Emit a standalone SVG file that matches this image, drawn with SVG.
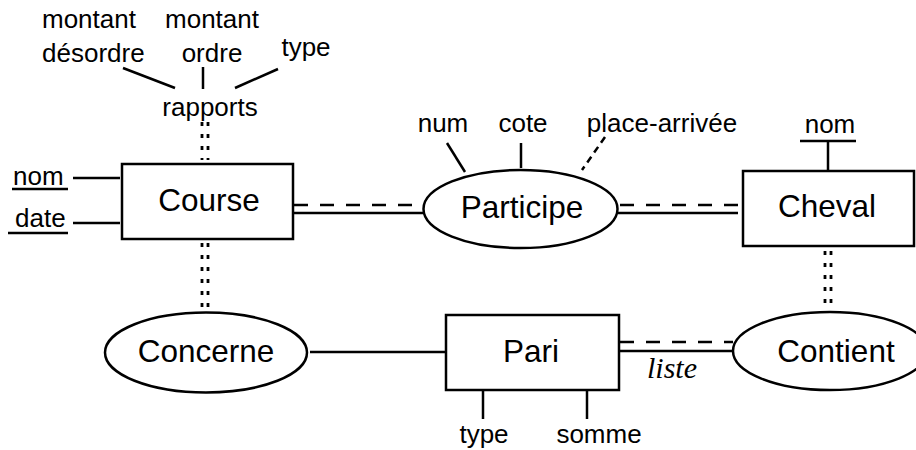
<svg xmlns="http://www.w3.org/2000/svg" width="916" height="450" viewBox="0 0 916 450">
<style>
.box{fill:#fff;stroke:#000;stroke-width:2.5}
.ell{fill:#fff;stroke:#000;stroke-width:2.5}
.ln{stroke:#000;stroke-width:2.5;fill:none}
.dash{stroke:#000;stroke-width:2.5;fill:none;stroke-dasharray:14 12}
.dot{stroke:#000;stroke-width:2.8;fill:none;stroke-dasharray:4 8}
.big{font-family:"Liberation Sans",Arial,sans-serif;font-size:31.5px;text-anchor:middle;fill:#000}
.att{font-family:"Liberation Sans",Arial,sans-serif;font-size:26px;fill:#000}
.mid{text-anchor:middle}
.role{font-family:"Liberation Serif","Times New Roman",serif;font-size:30px;font-style:italic;text-anchor:middle;fill:#000}
</style>
<rect width="916" height="450" fill="#fff"/>
<g id="connectors">
  <line class="dot" x1="202" y1="122" x2="202" y2="160"/>
  <line class="dot" x1="208" y1="122" x2="208" y2="160"/>
  <line class="dot" x1="202" y1="243" x2="202" y2="310"/>
  <line class="dot" x1="208" y1="243" x2="208" y2="310"/>
  <line class="dot" x1="825" y1="251" x2="825" y2="311"/>
  <line class="dot" x1="831" y1="251" x2="831" y2="311"/>
  <line class="dash" x1="294" y1="205" x2="423" y2="205"/>
  <line class="ln" x1="294" y1="213" x2="424" y2="213"/>
  <line class="dash" x1="620" y1="205" x2="738" y2="205"/>
  <line class="ln" x1="618" y1="213" x2="738" y2="213"/>
  <line class="ln" x1="310" y1="352" x2="446" y2="352"/>
  <line class="dash" x1="620" y1="342" x2="733" y2="342"/>
  <line class="ln" x1="620" y1="351" x2="734" y2="351"/>
  <text class="role" x="672" y="378">liste</text>
</g>
<g id="rapports">
  <text class="att" x="42" y="28">montant</text>
  <text class="att" x="42" y="62">désordre</text>
  <text class="att mid" x="212" y="28">montant</text>
  <text class="att mid" x="212" y="62">ordre</text>
  <text class="att mid" x="306" y="56">type</text>
  <line class="ln" x1="123" y1="68" x2="175" y2="88"/>
  <line class="ln" x1="203" y1="67" x2="203" y2="89"/>
  <line class="ln" x1="235" y1="88" x2="278" y2="69"/>
  <text class="att mid" x="210" y="116">rapports</text>
</g>
<g id="Course">
  <rect class="box" x="122" y="164" width="171" height="75"/>
  <text class="big" x="209" y="211">Course</text>
  <text class="att" x="13" y="185">nom</text>
  <line class="ln" x1="12" y1="189" x2="68" y2="189"/>
  <line class="ln" x1="73" y1="178" x2="120" y2="178"/>
  <text class="att" x="15" y="227">date</text>
  <line class="ln" x1="8" y1="233" x2="68" y2="233"/>
  <line class="ln" x1="73" y1="223" x2="120" y2="223"/>
</g>
<g id="Participe">
  <ellipse class="ell" cx="520.5" cy="209" rx="97" ry="39"/>
  <text class="big" x="522" y="218">Participe</text>
  <text class="att mid" x="443" y="132">num</text>
  <line class="ln" x1="447" y1="143" x2="465" y2="172"/>
  <text class="att mid" x="523" y="132">cote</text>
  <line class="ln" x1="521" y1="143" x2="521" y2="168"/>
  <text class="att mid" x="662" y="132">place-arrivée</text>
  <line class="ln" x1="605" y1="137" x2="582" y2="170" stroke-dasharray="7 5"/>
</g>
<g id="Cheval">
  <rect class="box" x="743" y="171" width="171" height="75"/>
  <text class="big" x="827" y="217">Cheval</text>
  <text class="att mid" x="830" y="133">nom</text>
  <line class="ln" x1="800" y1="141" x2="856" y2="141"/>
  <line class="ln" x1="828" y1="141" x2="828" y2="171"/>
</g>
<g id="Concerne">
  <ellipse class="ell" cx="206" cy="352.5" rx="101" ry="40"/>
  <text class="big" x="206" y="362">Concerne</text>
</g>
<g id="Pari">
  <rect class="box" x="446" y="315" width="173" height="75"/>
  <text class="big" x="531" y="362">Pari</text>
  <line class="ln" x1="483" y1="390" x2="483" y2="419"/>
  <line class="ln" x1="587" y1="390" x2="587" y2="419"/>
  <text class="att mid" x="484" y="443">type</text>
  <text class="att mid" x="599" y="443">somme</text>
</g>
<g id="Contient">
  <ellipse class="ell" cx="830" cy="351" rx="97" ry="39"/>
  <text class="big" x="836" y="362">Contient</text>
</g>
</svg>
